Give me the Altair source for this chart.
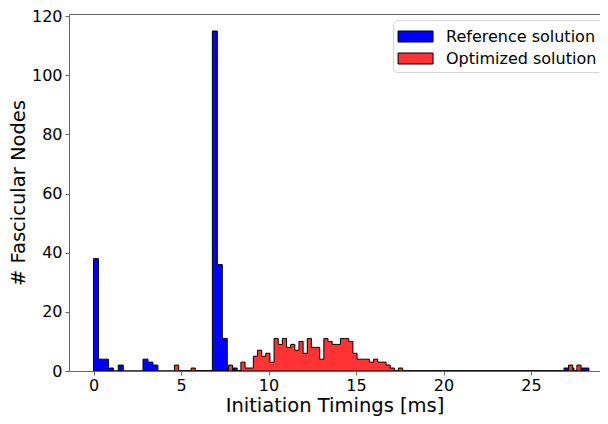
import altair as alt
import numpy as np
import pandas as pd

# Histogram of initiation timings
ref_label = "Reference solution"
opt_label = "Optimized solution"

ref_start = 0.0
ref_bin_width = 0.283
ref_counts = [
    38, 4, 4, 1, 0, 2, 0, 0, 0, 0,
    4, 3, 2, 0, 0, 0, 0, 0, 0, 0,
    0, 0, 0, 0, 115, 36, 11, 1, 1, 0,
    0, 0, 0, 0, 0, 0, 0, 0, 0, 0,
    0, 0, 0, 0, 0, 0, 0, 0, 0, 0,
    0, 0, 0, 1, 1, 1, 0, 0, 0, 0,
    0, 0, 0, 0, 0, 0, 0, 0, 0, 0,
    0, 0, 0, 0, 0, 0, 0, 0, 0, 0,
    0, 0, 0, 0, 0, 0, 0, 0, 0, 0,
    0, 0, 0, 0, 0, 1, 1, 0, 1, 1,
]

opt_start = 4.63
opt_bin_width = 0.237
opt_counts = [
    2, 0, 0, 0, 1, 0, 0, 0, 0, 0,
    0, 0, 0, 2, 0, 0, 3, 1, 1, 5,
    7, 5, 6, 3, 11, 9, 11, 8, 9, 7,
    10, 6, 11, 8, 8, 4, 11, 10, 9, 9,
    11, 11, 10, 6, 4, 4, 4, 3, 4, 3,
    3, 2, 1, 0, 1, 0, 0, 0, 0, 0,
    0, 0, 0, 0, 0, 0, 0, 0, 0, 0,
    0, 0, 0, 0, 0, 0, 0, 0, 0, 0,
    0, 0, 0, 0, 0, 0, 0, 0, 0, 0,
    0, 0, 0, 0, 0, 2, 0, 2, 0, 0,
]

x_ticks = [0, 5, 10, 15, 20, 25]
y_ticks = [0, 20, 40, 60, 80, 100, 120]


def step_table(start, width, counts, label):
    n = len(counts)
    edges = start + width * np.arange(n + 1)
    return pd.DataFrame({"x": list(edges), "count": list(counts) + [0], "series": label})


df_ref = step_table(ref_start, ref_bin_width, ref_counts, ref_label)
df_opt = step_table(opt_start, opt_bin_width, opt_counts, opt_label)

FONT = "DejaVu Sans"

x_scale = alt.Scale(domain=[-1.4, 28.94], nice=False, zero=False)
y_scale = alt.Scale(domain=[0, 120.75], nice=False)

color = alt.Color(
    "series:N",
    scale=alt.Scale(domain=[ref_label, opt_label], range=["#0000ff", "#ff3333"]),
    legend=alt.Legend(
        title=None,
        orient="none",
        legendX=324,
        legendY=6,
        symbolType="M-1.04,-0.5L2.14,-0.5L2.14,0.5L-1.04,0.5Z",
        symbolSize=484,
        symbolStrokeColor="black",
        symbolStrokeWidth=1,
        symbolOpacity=1,
        labelFont=FONT,
        labelFontSize=16,
        labelColor="black",
        labelOffset=25,
        padding=5,
        rowPadding=2,
        strokeColor="#d6d6d6",
        cornerRadius=4,
        fillColor="white",
    ),
)

y_enc = alt.Y(
    "count:Q",
    scale=y_scale,
    axis=alt.Axis(values=y_ticks, title="# Fascicular Nodes", titlePadding=3),
)

blue = alt.Chart(df_ref).mark_area(
    interpolate="step-after", stroke="black", strokeWidth=1, clip=True
).encode(
    x=alt.X(
        "x:Q",
        scale=x_scale,
        axis=alt.Axis(values=x_ticks, format="d", title="Initiation Timings [ms]",
                      titlePadding=3, labelPadding=2),
    ),
    y=y_enc,
    color=color,
)

red = alt.Chart(df_opt).mark_area(
    interpolate="step-after", stroke="black", strokeWidth=1, clip=True
).encode(
    x=alt.X(
        "x:Q",
        scale=x_scale,
        axis=alt.Axis(orient="top", labels=False, ticks=False, title=None, domain=True, grid=False),
    ),
    y=y_enc,
    color=color,
)

chart = (
    alt.layer(blue, red)
    .resolve_axis(x="independent")
    .properties(
        width=531,
        height=357,
        autosize=alt.AutoSizeParams(type="none"),
        padding={"left": 61, "top": 6, "right": 0, "bottom": 45},
        background="white",
    )
    .configure_view(strokeWidth=0)
    .configure_axis(
        grid=False,
        labelFont=FONT,
        labelFontSize=16,
        labelColor="black",
        titleFont=FONT,
        titleFontSize=19.5,
        titleFontWeight="normal",
        titleColor="black",
        domainColor="#666666",
        tickColor="#666666",
        tickSize=4,
        labelPadding=3,
    )
)

chart.save("out.html", embed_options={"renderer": "svg", "actions": False})
